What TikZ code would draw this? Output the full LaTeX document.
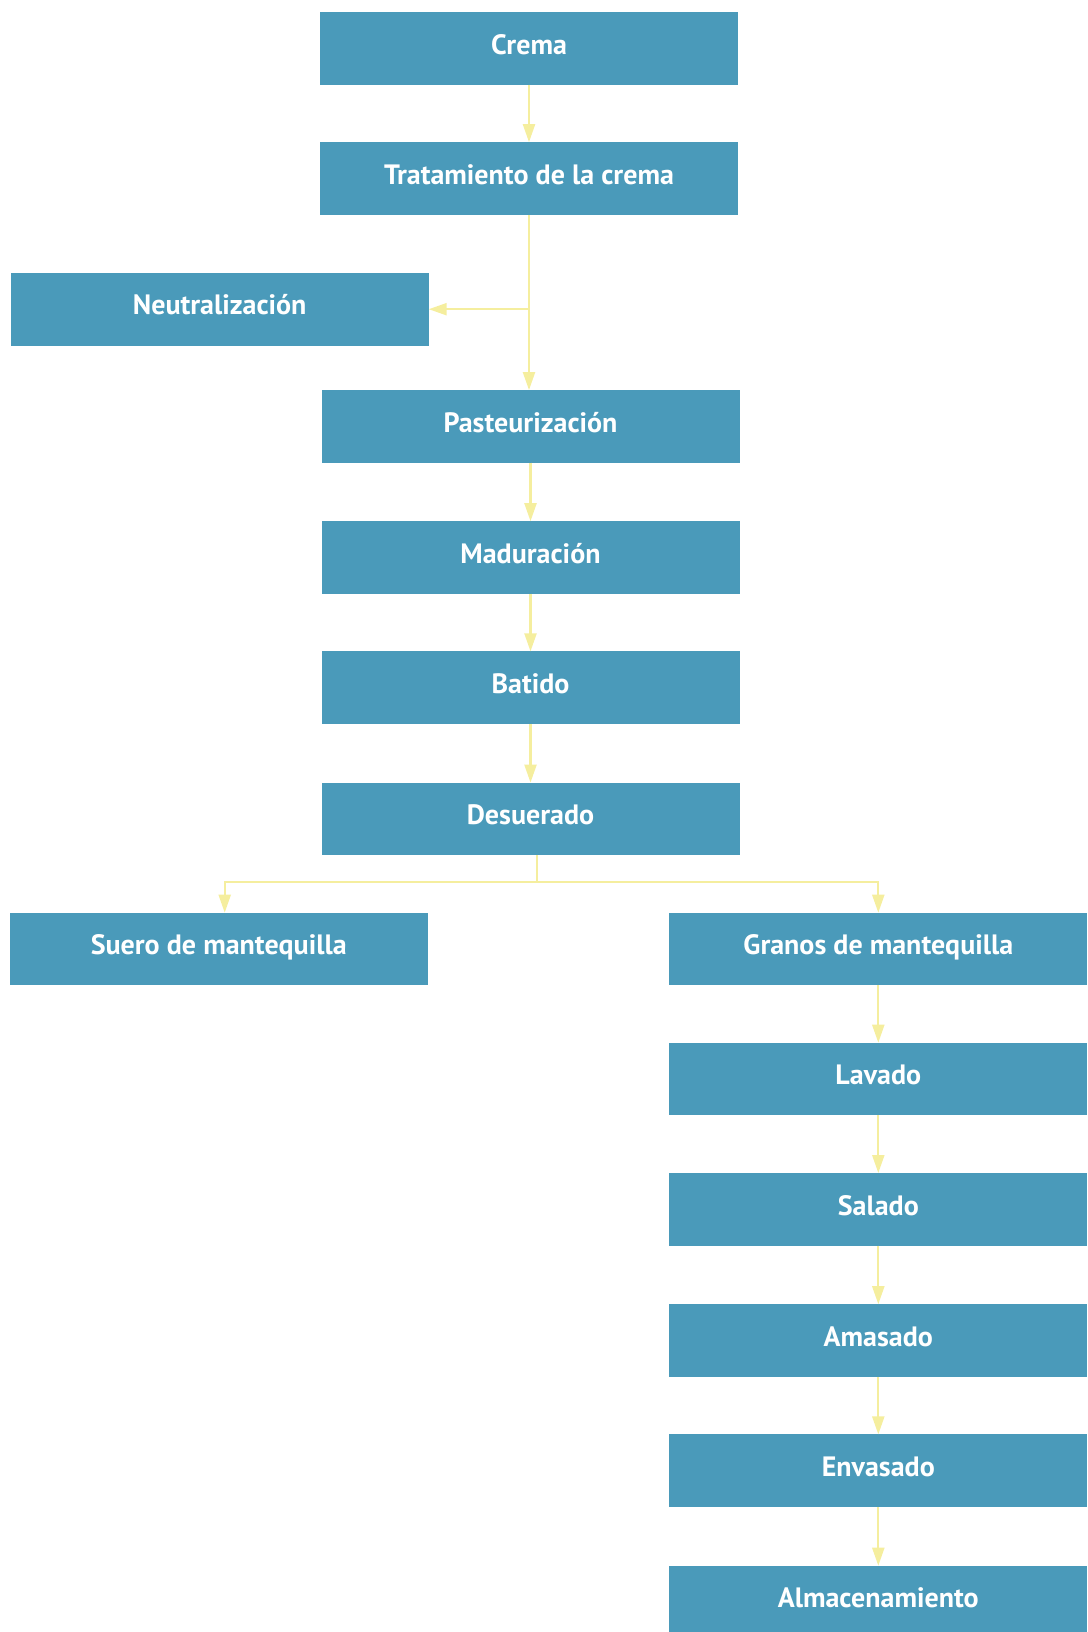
\documentclass[tikz,border=0pt]{standalone}
\usepackage{fontspec}
\setmainfont{PT Sans}
\usetikzlibrary{arrows.meta}

\definecolor{boxblue}{RGB}{74,154,186}
\definecolor{arrowyellow}{RGB}{245,238,158}

\begin{document}
\begin{tikzpicture}[x=0.5pt,y=-0.5pt,
    every node/.style={outer sep=0pt,inner sep=0pt}]
  \tikzstyle{stage}=[fill=boxblue,draw=none,minimum width=209pt,minimum height=36.3pt,
    text=white,font=\fontsize{14}{16}\selectfont\bfseries,text height=0.72em,text depth=0.15em]
  \tikzstyle{flow}=[draw=arrowyellow,line width=1.1pt,-{Triangle[length=9pt,width=6pt]}]
  \useasboundingbox (0,0) rectangle (1087,1632);

  % main column
  \node (crema) at (529,48.4) [stage] {Crema};
  \node (trat) at (529,178.5) [stage] {Tratamiento de la crema};
  \node (neut) at (219.7,309.2) [stage] {Neutralización};
  \node (past) at (530.5,426.4) [stage] {Pasteurización};
  \node (madur) at (530.5,557.5) [stage] {Maduración};
  \node (batido) at (530.5,687.7) [stage] {Batido};
  \node (desu) at (530.5,818.9) [stage] {Desuerado};

  % branches
  \node (suero) at (218.7,949) [stage] {Suero de mantequilla};
  \node (granos) at (878.3,949) [stage] {Granos de mantequilla};
  \node (lavado) at (878.3,1079) [stage] {Lavado};
  \node (salado) at (878.3,1209.3) [stage] {Salado};
  \node (amasado) at (878.3,1340.5) [stage] {Amasado};
  \node (envasado) at (878.3,1470.7) [stage] {Envasado};
  \node (almac) at (878.3,1602) [stage] {Almacenamiento};

  \draw [flow] (crema.south) -- (trat.north);
  \draw [flow] (trat.south) -- (trat.south |- past.north);
  \draw [flow] (trat.south |- neut.east) -- (neut.east);
  \draw [flow] (past) ++(0,36.3) -- (madur.north);
  \draw [flow] (madur.south) -- (batido.north);
  \draw [flow] (batido.south) -- (desu.north);

  \coordinate (split) at (537,881.7);
  \draw [draw=arrowyellow,line width=1.1pt] (desu.south -| split) -- (split);
  \draw [flow] (split) -| ([xshift=3pt]suero.north);
  \draw [flow] (split) -| (granos.north);

  \draw [flow] (granos.south) -- (lavado.north);
  \draw [flow] (lavado.south) -- (salado.north);
  \draw [flow] (salado.south) -- (amasado.north);
  \draw [flow] (amasado.south) -- (envasado.north);
  \draw [flow] (envasado.south) -- (almac.north);
\end{tikzpicture}
\end{document}
